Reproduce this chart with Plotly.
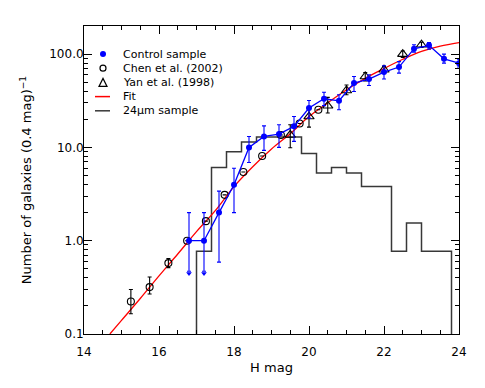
import plotly.graph_objects as go

# ── Data ──────────────────────────────────────────────────────────────────────
ctrl_x    = [16.8, 17.2, 17.6, 18.0, 18.4, 18.8, 19.2, 19.6, 20.0, 20.4,
             20.8, 21.2, 21.6, 22.0, 22.4, 22.8, 23.2, 23.6, 24.0]
ctrl_y    = [1.0, 1.0, 2.0, 3.97, 10.0, 13.1, 13.9, 16.8, 26.4, 33.2,
             31.6, 48.9, 54.0, 64.2, 72.6, 114, 124, 89, 80]
ctrl_up   = [1.0, 1.0, 1.4, 2.0, 3.1, 3.9, 3.6, 4.6, 5.4, 5.8,
             5.0, 8.6, 6.0, 10.8, 10.4, 12, 9, 11, 8.4]
ctrl_down = [0.53, 0.53, 1.41, 1.97, 3.1, 3.8, 3.9, 5.2, 5.8, 5.2,
             6.3, 9.2, 8.0, 10.2, 10.1, 9, 11, 9, 7.4]
# control points whose error bar runs down to zero (drawn as arrows)
arrow_x = [16.8, 17.2]
arrow_y = [0.445, 0.445]

chen_x    = [15.25, 15.75, 16.25, 16.75, 17.25, 17.75, 18.25, 18.75, 19.25, 19.75, 20.25]
chen_y    = [0.223, 0.318, 0.575, 1.0, 1.62, 3.1, 5.45, 8.1, 13.6, 18.0, 25.3]
chen_up   = [0.077, 0.09, 0.07, 0, 0, 0, 0, 0, 0, 0, 0]
chen_down = [0.058, 0.05, 0.06, 0, 0, 0, 0, 0, 0, 0, 0]

yan_x    = [19.5, 20.0, 20.5, 21.0, 21.5, 22.0, 22.5, 23.0]
yan_y    = [13.6, 21.4, 27.9, 40.7, 57.5, 67.9, 100, 126]
yan_up   = [3.9, 4.3, 6.5, 6.0, 6.0, 6.0, 8.0, 8.0]
yan_down = [3.7, 4.9, 4.5, 4.0, 6.0, 6.0, 8.0, 8.0]

fit_x = [14.69, 15.0, 15.5, 16.0, 16.5, 17.0, 17.5, 18.0, 18.5, 19.0,
         19.5, 20.0, 20.5, 21.0, 21.5, 22.0, 22.5, 23.0, 23.5, 24.0]
fit_y = [0.1, 0.14, 0.24, 0.42, 0.72, 1.25, 2.1, 3.8, 6.2, 9.6,
         14.0, 21.4, 30.0, 41.5, 55, 70, 88, 107, 122, 133]

# 24um histogram: left bin edges, heights, last right edge
hist_edges = [17.0, 17.4, 17.8, 18.2, 18.6, 19.0, 19.4, 19.8, 20.2, 20.6,
              21.0, 21.4, 21.8, 22.2, 22.6, 23.0, 23.4]
hist_vals  = [0.77, 6.1, 9.0, 11.4, 12.9, 12.9, 12.9, 8.6, 5.3, 6.1,
              5.3, 3.8, 3.8, 0.77, 1.55, 0.77, 0.77]
hist_end   = 23.8
hist_floor = 0.05   # below the axis so the outer edges run to the bottom

x_ticks = [14, 16, 18, 20, 22, 24]
y_ticks = [0.1, 1, 10, 100]
y_tick_text = ["0.1", "1.0", "10.0", "100.0"]
y_minor = [m * d for d in (0.1, 1, 10, 100) for m in range(2, 10) if m * d <= 200]

BLUE = "#0000FF"
RED = "#FF0000"
GREY = "#383838"
FONT = "DejaVu Sans"

# page has an 8px body margin, so the figure is sized/offset to compensate
W, H = 469, 372
L, R, T, B = 76, 18, 18, 46

fig = go.Figure()

# histogram
fig.add_trace(go.Scatter(
    x=[hist_edges[0]] + hist_edges + [hist_end],
    y=[hist_floor] + hist_vals + [hist_floor],
    mode="lines", line=dict(color=GREY, width=1.5, shape="hv"),
    showlegend=False, hoverinfo="skip",
))

# fit
fig.add_trace(go.Scatter(
    x=fit_x, y=fit_y, mode="lines",
    line=dict(color=RED, width=1.3, shape="spline", smoothing=1.0),
    showlegend=False,
))

# Chen et al.
fig.add_trace(go.Scatter(
    x=chen_x, y=chen_y, mode="markers",
    marker=dict(symbol="circle-open", size=7, color="black", line=dict(width=1.1)),
    error_y=dict(type="data", array=chen_up, arrayminus=chen_down,
                 color="black", thickness=1.1, width=2),
    showlegend=False,
))

# Yan et al.
fig.add_trace(go.Scatter(
    x=yan_x, y=yan_y, mode="markers",
    marker=dict(symbol="triangle-up-open", size=9, color="black", line=dict(width=1.1)),
    error_y=dict(type="data", array=yan_up, arrayminus=yan_down,
                 color="black", thickness=1.1, width=2),
    showlegend=False,
))

# control sample
fig.add_trace(go.Scatter(
    x=ctrl_x, y=ctrl_y, mode="lines+markers",
    line=dict(color=BLUE, width=1.3),
    marker=dict(symbol="circle", size=6, color=BLUE),
    error_y=dict(type="data", array=ctrl_up, arrayminus=ctrl_down,
                 color=BLUE, thickness=1.1, width=2),
    showlegend=False,
))
fig.add_trace(go.Scatter(
    x=arrow_x, y=arrow_y, mode="markers",
    marker=dict(symbol="triangle-down", size=5, color=BLUE),
    showlegend=False, hoverinfo="skip",
))

# ── hand-made legend (IDL-style, tight rows) ─────────────────────────────────
pw, ph = W - L - R, H - T - B


def px2paper(px, py):
    # px, py measured in page pixels (figure sits 8px in from the corner)
    return (px - 8 - L) / pw, (H - B - (py - 8)) / ph


legend_labels = ["Control sample", "Chen et al. (2002)", "Yan et al. (1998)",
                 "Fit", "24\u03bcm sample"]
row0, row_gap, sym_x, txt_x = 54, 14.2, 103, 121
shapes, annotations = [], []
for i, lab in enumerate(legend_labels):
    py = row0 + i * row_gap
    sx, sy = px2paper(sym_x, py)
    tx, _ = px2paper(txt_x, py)
    annotations.append(dict(xref="paper", yref="paper", x=tx, y=sy, text=lab,
                            showarrow=False, xanchor="left", yanchor="middle",
                            font=dict(family=FONT, size=11, color="black")))
    base = dict(xref="paper", yref="paper", xsizemode="pixel", ysizemode="pixel",
                xanchor=sx, yanchor=sy)
    if i == 0:
        shapes.append(dict(type="circle", x0=-3, x1=3, y0=-3, y1=3,
                           fillcolor=BLUE, line=dict(color=BLUE, width=0), **base))
    elif i == 1:
        shapes.append(dict(type="circle", x0=-3, x1=3, y0=-3, y1=3,
                           line=dict(color="black", width=1.2), **base))
    elif i == 2:
        shapes.append(dict(type="path", path="M -4 -4 L 4 -4 L 0 4 Z",
                           line=dict(color="black", width=1.2), **base))
    else:
        col = RED if i == 3 else GREY
        shapes.append(dict(type="line", x0=-8, x1=7, y0=0, y1=0,
                           line=dict(color=col, width=1.5), **base))

axis_common = dict(
    showline=True, linecolor="black", linewidth=1, mirror="ticks",
    ticks="inside", tickcolor="black", showgrid=False, zeroline=False,
    automargin=False,
    tickfont=dict(family=FONT, size=12, color="black"),
)

fig.update_layout(
    width=W, height=H,
    margin=dict(l=L, r=R, t=T, b=B),
    paper_bgcolor="white", plot_bgcolor="white",
    font=dict(family=FONT, size=12, color="black"),
    shapes=shapes, annotations=annotations,
    xaxis=dict(
        range=[14, 24], tickvals=x_ticks, ticklen=8, ticklabelstandoff=7,
        minor=dict(ticks="inside", dtick=0.5, ticklen=4, tickcolor="black"),
        title=dict(text="H mag", font=dict(family=FONT, size=13), standoff=4),
        **axis_common,
    ),
    yaxis=dict(
        type="log", range=[-1, 2.301], tickvals=y_ticks, ticktext=y_tick_text,
        ticklen=8, ticklabelstandoff=-3,
        minor=dict(ticks="inside", tickvals=y_minor, ticklen=4, tickcolor="black"),
        title=dict(text="Number of galaxies (0.4 mag)<sup>\u22121</sup>",
                   font=dict(family=FONT, size=13), standoff=14),
        **axis_common,
    ),
)

fig.write_html("out.html")
